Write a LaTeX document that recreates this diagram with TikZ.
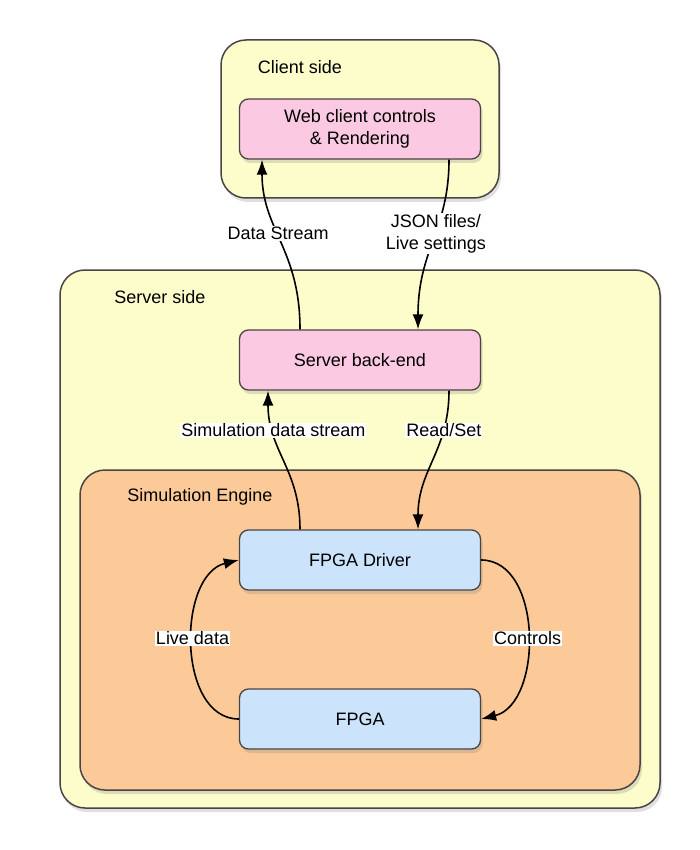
\documentclass[tikz,border=0pt]{standalone}
\usepackage{fontspec}
\setmainfont{Liberation Sans}
\usetikzlibrary{arrows.meta,shadows}

\definecolor{sideyellow}{HTML}{FDFCCB}
\definecolor{partpink}{HTML}{FBCAE2}
\definecolor{engineorange}{HTML}{FCCA98}
\definecolor{partblue}{HTML}{CCE4FB}
\definecolor{edgegray}{HTML}{4A4444}

\begin{document}
\begin{tikzpicture}[
    x=1pt, y=-1pt,
    every node/.style={font=\fontsize{18}{22}\selectfont},
    area/.style={draw=edgegray, line width=1.5pt, rounded corners=25pt, inner sep=0pt,
        drop shadow={opacity=0.25, shadow xshift=2pt, shadow yshift=-4pt}},
    part/.style={draw=edgegray, line width=1.3pt, rounded corners=9pt, align=center,
        minimum width=241pt, minimum height=60pt,
        drop shadow={opacity=0.25, shadow xshift=2pt, shadow yshift=-4pt}},
    flow/.style={line width=1.6pt, -{Latex[length=15pt,width=11pt]}},
    tag/.style={fill=white, inner sep=1pt, align=center},
]
    \useasboundingbox (0,0) rectangle (700,850);

    \node[area, fill=sideyellow, minimum width=278pt, minimum height=158pt] (client) at (360,119) {};
    \node[area, fill=sideyellow, minimum width=600pt, minimum height=538pt] (server) at (360,539) {};
    \node[area, fill=engineorange, minimum width=560pt, minimum height=320pt] (engine) at (360,630) {};

    \node (clientlabel) at (300,67) {Client side};
    \node (serverlabel) at (160,297) {Server side};
    \node (enginelabel) at (200,497) {Simulation Engine};

    \node[part, fill=partpink] (web) at (360,129) {Web client controls\\\& Rendering};
    \node[part, fill=partpink] (backend) at (360,360) {Server back-end};
    \node[part, fill=partblue] (driver) at (360,560) {FPGA Driver};
    \node[part, fill=partblue] (fpga) at (360,719) {FPGA};

    \draw[flow] ([xshift=-60pt]backend.north) .. controls +(0,-80) and +(0,70) ..
        node[tag, pos=0.55] {Data Stream} ([xshift=-98pt]web.south);
    \draw[flow] ([xshift=89pt]web.south) .. controls +(0,70) and +(0,-80) ..
        node[tag, pos=0.45] {JSON files/\\Live settings} ([xshift=58pt]backend.north);

    \draw[flow] ([xshift=-60pt]driver.north) .. controls +(0,-60) and +(0,60) ..
        node[tag, pos=0.74] {Simulation data stream} ([xshift=-92pt]backend.south);
    \draw[flow] ([xshift=89pt]backend.south) .. controls +(0,60) and +(0,-60) ..
        node[tag, pos=0.26] {Read/Set} ([xshift=58pt]driver.north);

    \draw[flow] (fpga.west) .. controls +(-62,0) and +(-62,15) ..
        node[tag, pos=0.53] {Live data} (driver.west);
    \draw[flow] (driver.east) .. controls +(62,0) and +(62,-15) ..
        node[tag, pos=0.52] {Controls} (fpga.east);
\end{tikzpicture}
\end{document}
